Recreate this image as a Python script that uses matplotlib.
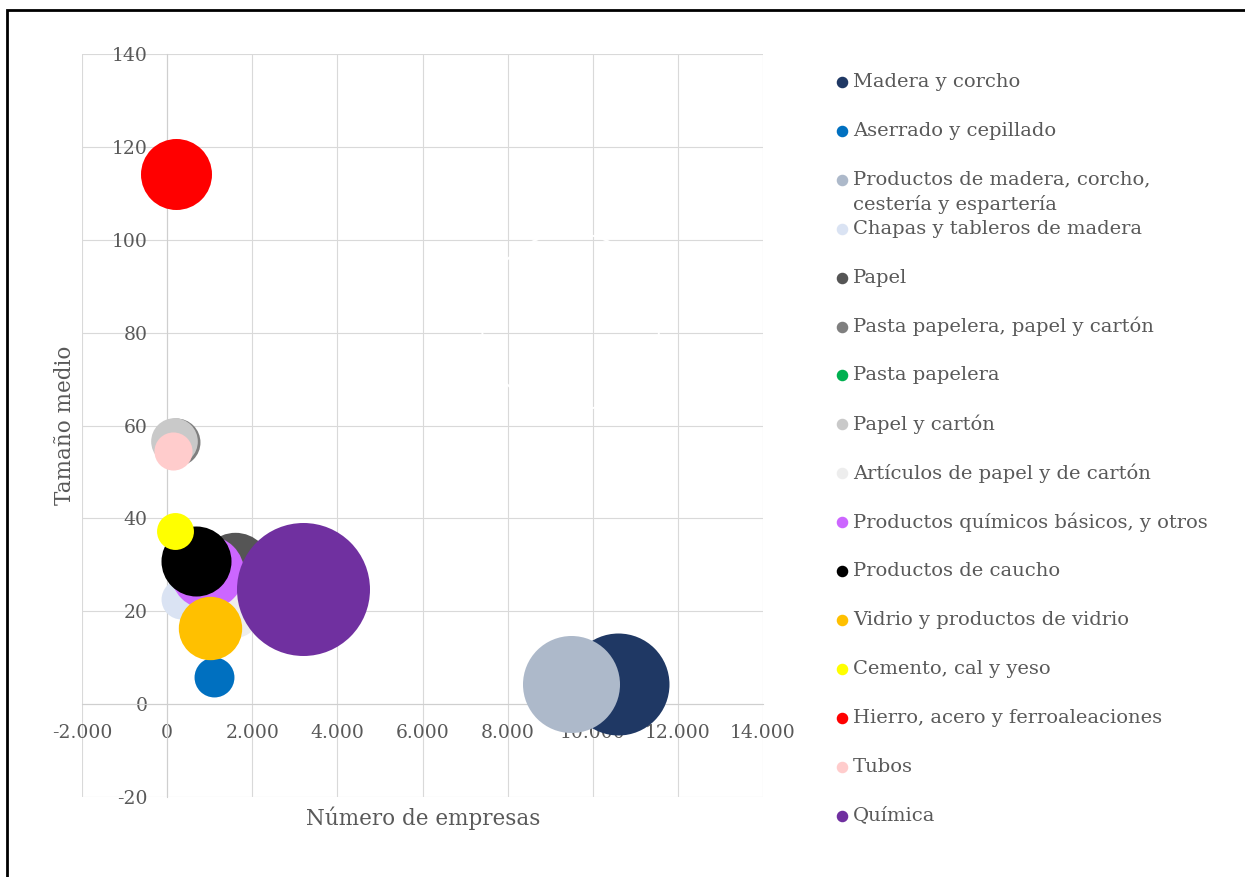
import numpy as np
import matplotlib
matplotlib.use("Agg")
import matplotlib.pyplot as plt
from matplotlib.ticker import FuncFormatter, MultipleLocator
from matplotlib.lines import Line2D
from matplotlib.patches import Rectangle

# Sectores (orden de la serie en la hoja)
sectores = [
    "Madera y corcho",
    "Aserrado y cepillado",
    "Productos de madera, corcho,\ncestería y espartería",
    "Chapas y tableros de madera",
    "Papel",
    "Pasta papelera, papel y cartón",
    "Pasta papelera",
    "Papel y cartón",
    "Artículos de papel y de cartón",
    "Productos químicos básicos, y otros",
    "Productos de caucho",
    "Vidrio y productos de vidrio",
    "Cemento, cal y yeso",
    "Hierro, acero y ferroaleaciones",
    "Tubos",
    "Química",
]
num_empresas = [10600, 1090, 9480, 330, 1600, 200, 150, 172, 1530, 934, 690, 1012, 180, 212, 134, 3190]
tamano_medio = [4.3, 5.9, 4.3, 22.7, 29.3, 56.5, 57.0, 56.6, 20.7, 28.5, 30.9, 16.4, 37.3, 114.2, 54.5, 24.7]
tamano_burbuja = [58.8, 9.0, 53.2, 9.0, 28.8, 13.0, 1.0, 12.3, 20.4, 30.5, 27.7, 22.7, 7.7, 28.5, 8.2, 100.0]
colores = ["#1f3864", "#0070c0", "#adb9ca", "#dae3f3", "#555555", "#7f7f7f", "#00b050", "#c9c9c9",
           "#ededed", "#cc66ff", "#000000", "#ffc000", "#ffff00", "#ff0000", "#ffcccc", "#7030a0"]

# burbuja sin relleno (solo borde blanco) que aparece en el original
anillo_x = [9480]
anillo_y = [82.3]
anillo_size = [179.0]

W, H = 1245, 877
fx = lambda px: px / W
fy = lambda py: 1 - py / H

plt.rcParams["font.family"] = ["DejaVu Serif"]
txt = "#595959"
grid_c = "#d9d9d9"

fig = plt.figure(figsize=(W / 100, H / 100), dpi=100)
ax = fig.add_axes([fx(82), fy(797), fx(763) - fx(82), fy(54) - fy(797)])

s_scale = 91.7  # puntos^2 por unidad de tamaño
for i in range(len(sectores)):
    ax.scatter(num_empresas[i], tamano_medio[i], s=tamano_burbuja[i] * s_scale,
               color=colores[i], linewidths=0, zorder=3 + i)
ax.scatter(anillo_x, anillo_y, s=np.array(anillo_size) * s_scale, facecolors="none",
           edgecolors="white", linewidths=1.4, zorder=2.5)

ax.set_xlim(-2000, 14000)
ax.set_ylim(-20, 140)
ax.xaxis.set_major_locator(MultipleLocator(2000))
ax.yaxis.set_major_locator(MultipleLocator(20))
fmt = FuncFormatter(lambda v, p: f"{int(round(v)):,}".replace(",", "."))
ax.xaxis.set_major_formatter(fmt)
ax.yaxis.set_major_formatter(fmt)
ax.grid(True, color=grid_c, lw=0.8, zorder=0)
ax.set_axisbelow(True)

ax.spines["left"].set_position(("data", 0))
ax.spines["bottom"].set_position(("data", 0))
ax.spines["top"].set_visible(False)
ax.spines["right"].set_visible(False)
for sp in ["left", "bottom"]:
    ax.spines[sp].set_color("#cfcfcf")
    ax.spines[sp].set_linewidth(0.8)
    ax.spines[sp].set_zorder(1)
ax.tick_params(axis="both", length=0, labelsize=13.5, colors=txt)
ax.tick_params(axis="x", pad=14)
ax.tick_params(axis="y", pad=14)

fig.text(fx(423), fy(818), "Número de empresas", ha="center", va="center", fontsize=15.5, color=txt)
fig.text(fx(65), fy(425), "Tamaño medio", ha="center", va="center", rotation=90, fontsize=15.5, color=txt)

# leyenda a la derecha
for i, (lab, c) in enumerate(zip(sectores, colores)):
    y0 = 82 + i * 48.9
    fig.add_artist(Line2D([fx(842)], [fy(y0)], marker="o", ms=7.3, color=c, lw=0,
                          transform=fig.transFigure))
    for k, line in enumerate(lab.split("\n")):
        fig.text(fx(853), fy(y0 + 25 * k), line, ha="left", va="center", fontsize=14, color=txt)

# marco
fig.add_artist(Rectangle((fx(7), -0.1), 1.2, fy(10) + 0.1, transform=fig.transFigure,
                         fill=False, edgecolor="black", lw=2))

fig.savefig("out.png", dpi=100, facecolor="white")
